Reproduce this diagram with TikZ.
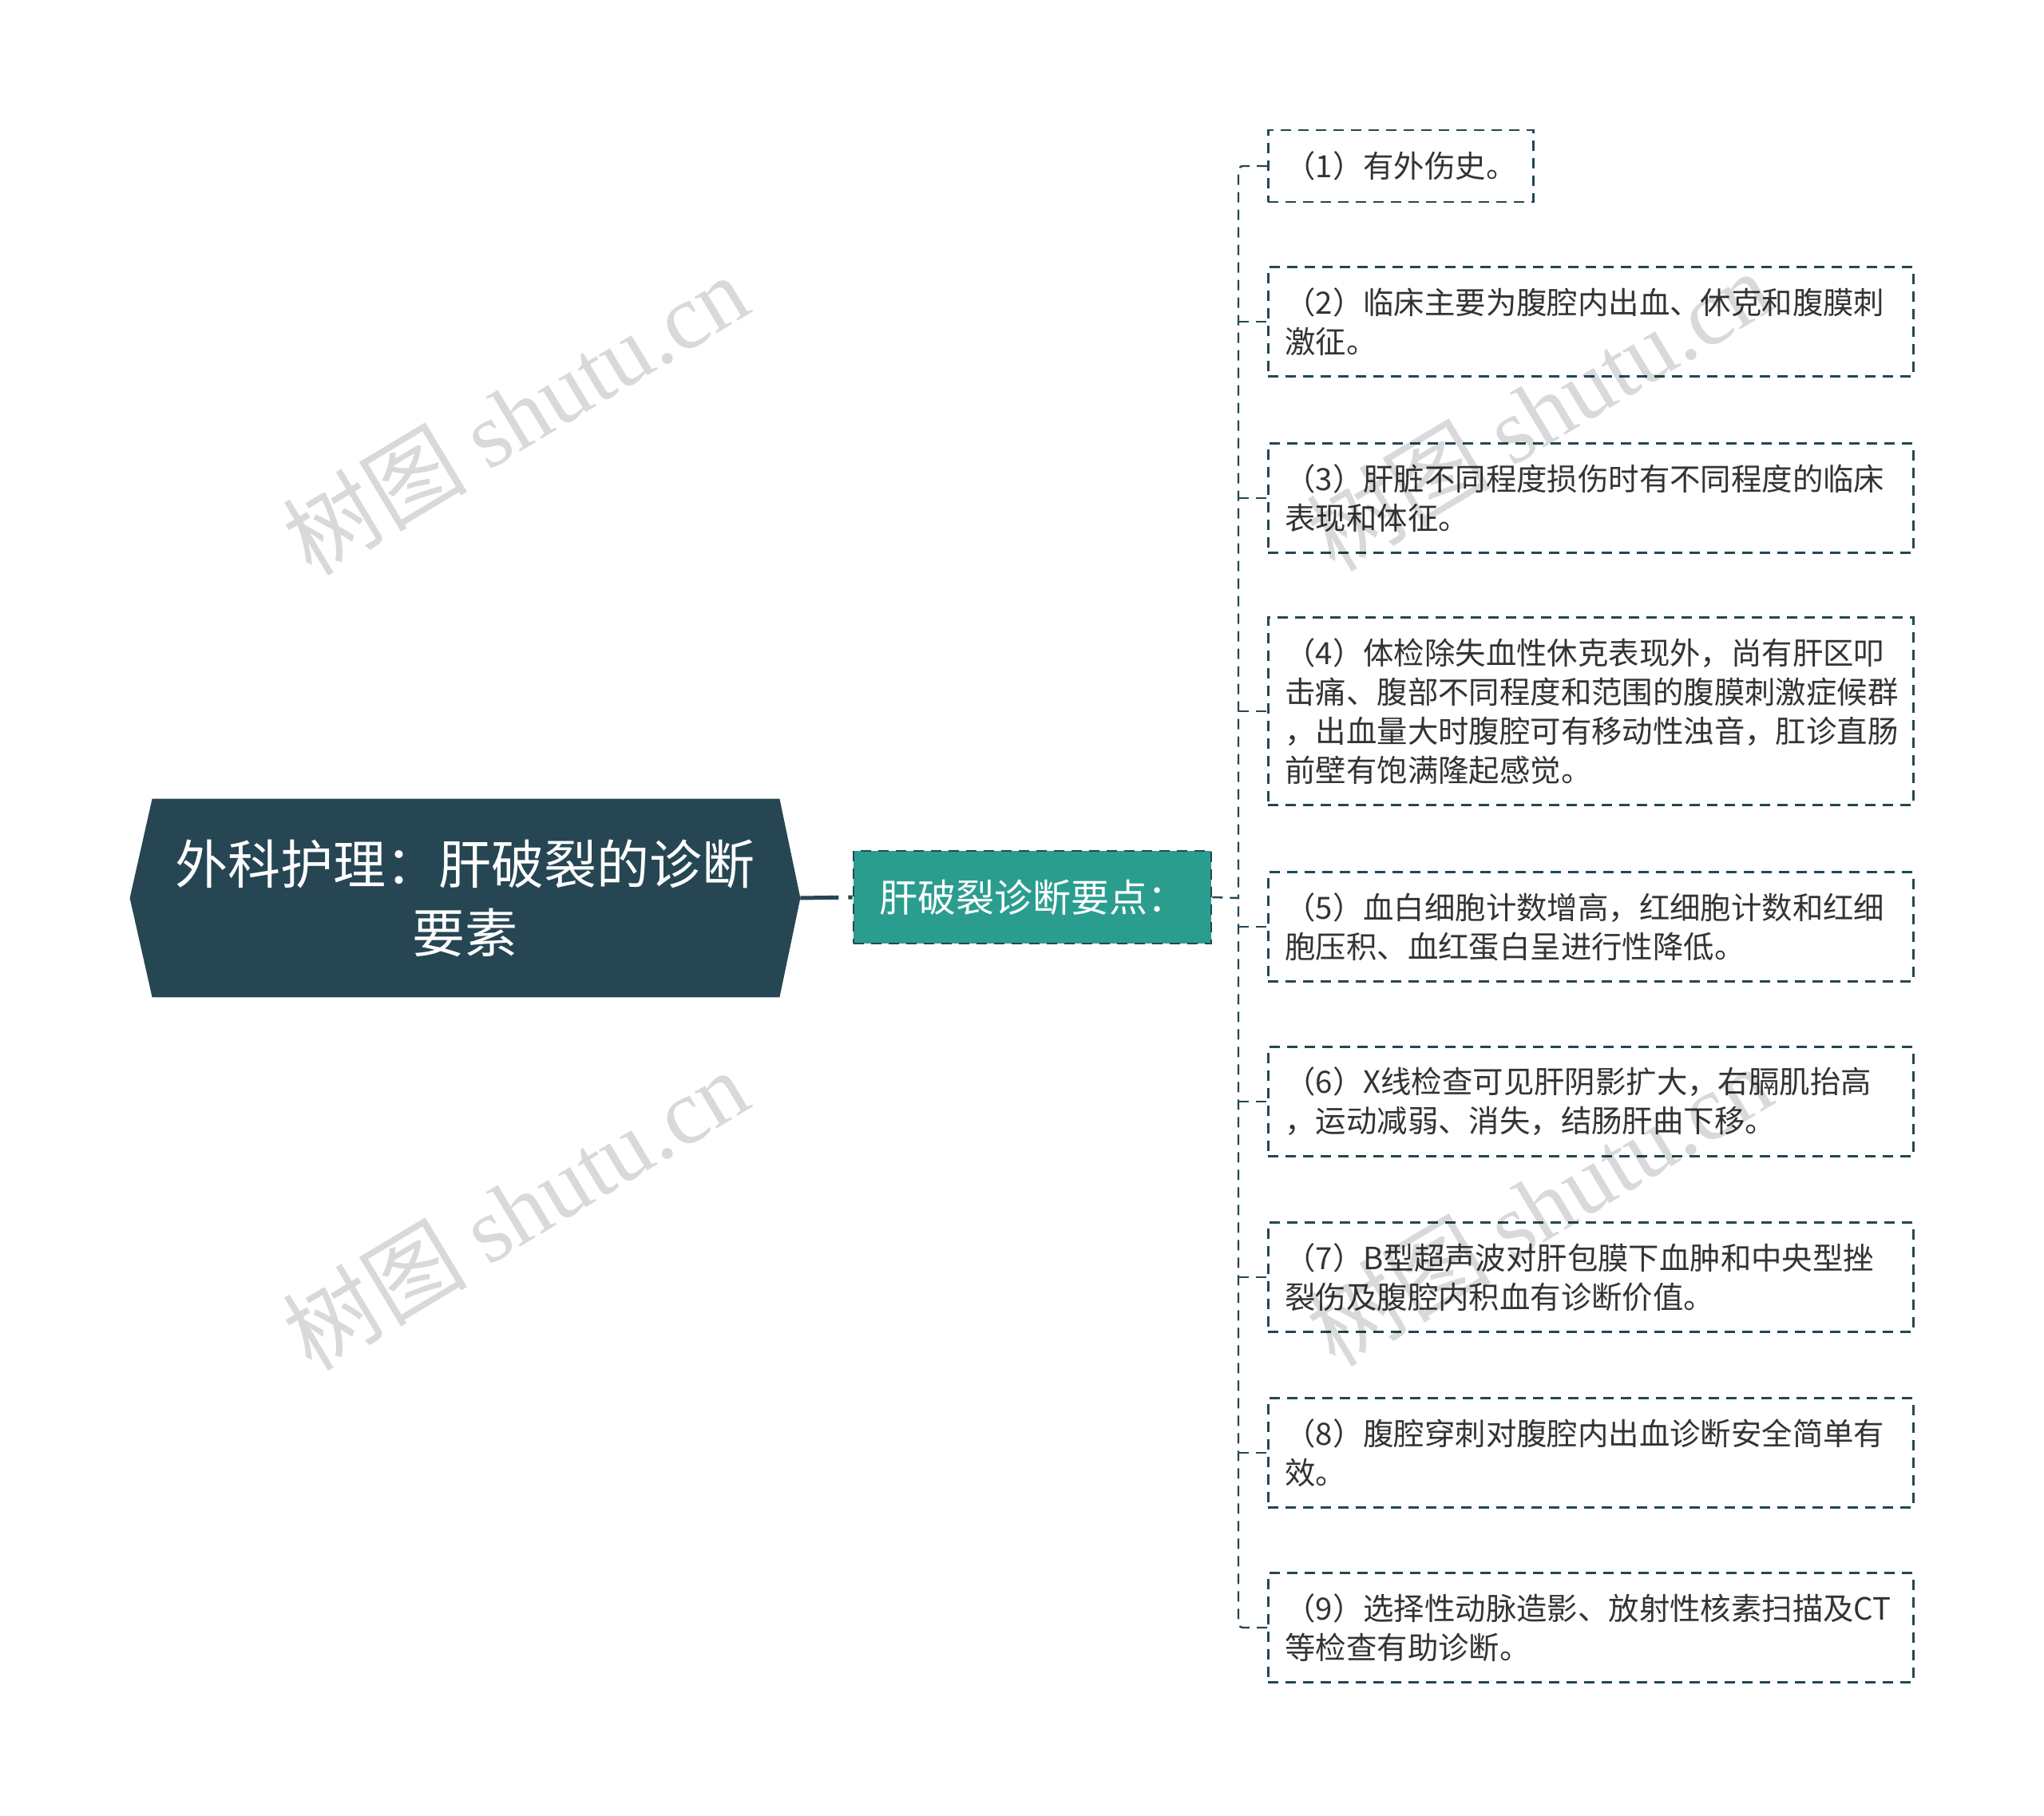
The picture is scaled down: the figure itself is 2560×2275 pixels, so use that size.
\documentclass[tikz,border=0pt]{standalone}
\usepackage{fontspec}
\setmainfont{Noto Sans CJK SC}
\newfontfamily\wmserif{Liberation Serif}
\definecolor{dk}{RGB}{38,70,83}
\definecolor{tealc}{RGB}{42,157,143}
\definecolor{txt}{RGB}{51,51,51}
\begin{document}
\begin{tikzpicture}[x=0.5pt,y=-0.5pt,
  leaf/.style={draw=dk, line width=1.4pt, dash pattern=on 6.5pt off 4.5pt, fill=white,
    text=txt, font=\fontsize{19.2pt}{24.5pt}\selectfont, align=left,
    inner xsep=10.5pt, anchor=west, text width=383pt, minimum height=68.5pt},
  conn/.style={draw=dk, line width=1.2pt, dash pattern=on 6.5pt off 4.5pt},
  wm/.style={rotate=31, text=black, text opacity=0.15, font=\fontsize{58pt}{60pt}\selectfont},
]
\useasboundingbox (0,0) rectangle (2560,2275);
\fill[white] (0,0) rectangle (2560,2275);

% root
\node[minimum width=419.5pt, minimum height=124pt, inner sep=0pt] (root) at (582.5,1125) {};
\fill[dk] (root.west) -- ([xshift=14pt]root.north west) -- ([xshift=-13pt]root.north east)
  -- (root.east) -- ([xshift=-13pt]root.south east) -- ([xshift=14pt]root.south west) -- cycle;
\node[text=white, align=center, font=\fontsize{33pt}{43pt}\selectfont] (roottext) at (root.center)
  {外科护理：肝破裂的诊断\\要素};

% middle
\node[fill=tealc, draw=dk, line width=1.4pt, dash pattern=on 6.5pt off 4.5pt,
  minimum width=224pt, minimum height=58pt, text=white,
  font=\fontsize{24pt}{28pt}\selectfont] (mid) at (1293,1124) {肝破裂诊断要点：};

\draw[dk, line width=2.5pt, dash pattern=on 24pt off 6pt] (root.east) -- (mid.west);

% leaves
\node[leaf, text width=, minimum height=45pt] (l1) at (1587,208) {（1）有外伤史。};
\node[leaf] (l2) at (1587,403) {（2）临床主要为腹腔内出血、休克和腹膜刺\\激征。};
\node[leaf] (l3) at (1587,624) {（3）肝脏不同程度损伤时有不同程度的临床\\表现和体征。};
\node[leaf, minimum height=117.5pt] (l4) at (1587,891) {（4）体检除失血性休克表现外，尚有肝区叩\\击痛、腹部不同程度和范围的腹膜刺激症候群\\，出血量大时腹腔可有移动性浊音，肛诊直肠\\前壁有饱满隆起感觉。};
\node[leaf] (l5) at (1587,1161) {（5）血白细胞计数增高，红细胞计数和红细\\胞压积、血红蛋白呈进行性降低。};
\node[leaf] (l6) at (1587,1380) {（6）X线检查可见肝阴影扩大，右膈肌抬高\\，运动减弱、消失，结肠肝曲下移。};
\node[leaf] (l7) at (1587,1600) {（7）B型超声波对肝包膜下血肿和中央型挫\\裂伤及腹腔内积血有诊断价值。};
\node[leaf] (l8) at (1587,1820) {（8）腹腔穿刺对腹腔内出血诊断安全简单有\\效。};
\node[leaf] (l9) at (1587,2039) {（9）选择性动脉造影、放射性核素扫描及CT\\等检查有助诊断。};

% connectors
\coordinate (spine) at (1551,1125);
\draw[conn] (mid.east) -- (spine);
\draw[conn, rounded corners=3pt] (l1.west) -| (spine);
\draw[conn, rounded corners=3pt] (l9.west) -| (spine);
\foreach \n in {l2,l3,l4,l5,l6,l7,l8} {
  \draw[conn] (\n.west -| spine) -- (\n.west);
}

% watermarks
\node[wm] (wm1) at (645,519) {树图 {\wmserif shutu.cn}};
\node[wm] (wm2) at (645,1515) {树图 {\wmserif shutu.cn}};
\node[wm] (wm3) at (1927,514) {树图 {\wmserif shutu.cn}};
\node[wm] (wm4) at (1927,1510) {树图 {\wmserif shutu.cn}};
\end{tikzpicture}
\end{document}
